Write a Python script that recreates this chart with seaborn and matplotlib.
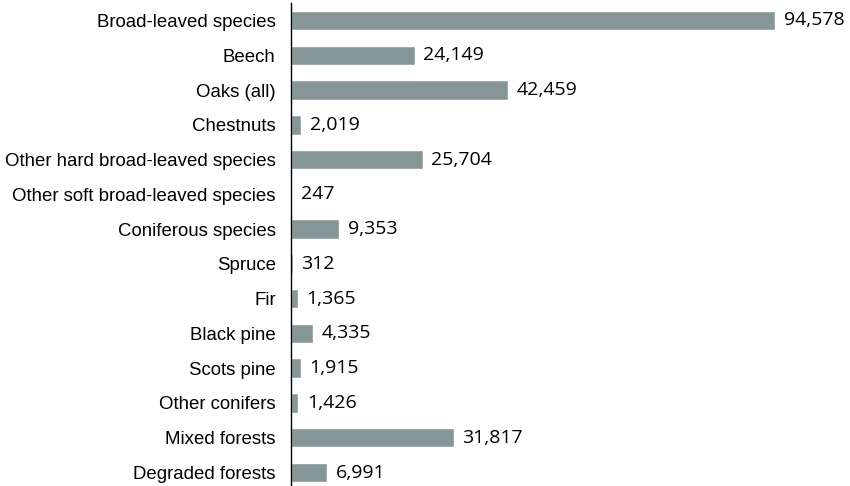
import matplotlib
matplotlib.use("Agg")
import matplotlib.pyplot as plt
import seaborn as sns
import pandas as pd

# data
species = ["Broad-leaved species", "Beech", "Oaks (all)", "Chestnuts",
           "Other hard broad-leaved species", "Other soft broad-leaved species",
           "Coniferous species", "Spruce", "Fir", "Black pine", "Scots pine",
           "Other conifers", "Mixed forests", "Degraded forests"]
area = [94578, 24149, 42459, 2019, 25704, 247, 9353, 312, 1365, 4335,
        1915, 1426, 31817, 6991]

df = pd.DataFrame({"species": species, "area": area})

sns.set_theme(style="white")
fig = plt.figure(figsize=(8.5, 4.86), dpi=100)
ax = fig.add_axes([291 / 850, -0.008, 0.602, 1.0016])

sns.barplot(data=df, x="area", y="species", color="#879797", saturation=1,
            width=0.56, ax=ax, orient="h")

ax.set_xlim(0, 100000)
ax.set_ylim(13.5, -0.5)
ax.set_xlabel("")
ax.set_ylabel("")
ax.set_xticks([])
for s in ["top", "right", "bottom"]:
    ax.spines[s].set_visible(False)
ax.spines["left"].set_color("black")
ax.spines["left"].set_linewidth(1.0)
ax.tick_params(axis="y", length=0, pad=11)
for lbl in ax.get_yticklabels():
    lbl.set_fontfamily("Liberation Sans")
    lbl.set_fontsize(13.4)
    lbl.set_color("black")

for i, v in enumerate(area):
    ax.text(v + 1700, i, f"{v:,}", va="center", ha="left",
            fontsize=14, family="Open Sans", color="black", clip_on=False)

fig.savefig("out.png", dpi=100)
